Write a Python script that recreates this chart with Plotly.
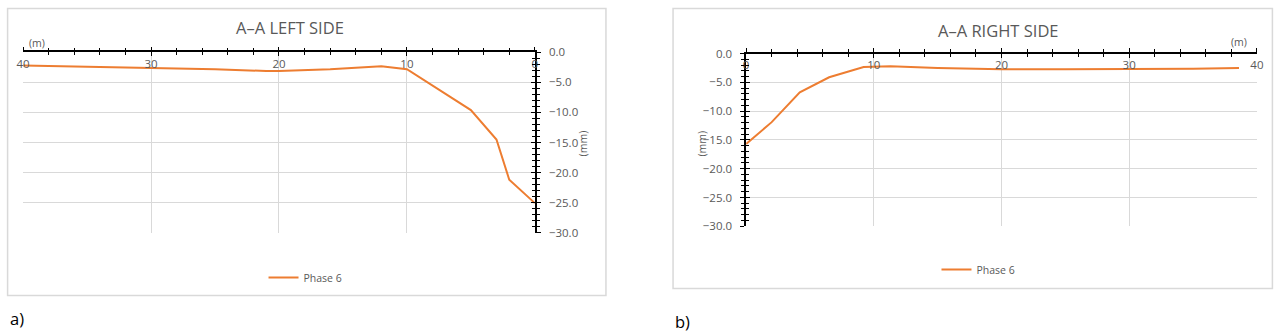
import plotly.graph_objects as go

# ---- data ----
left_dist = [40, 35, 30, 25, 21, 20, 16, 12, 10, 5, 3, 2, 0]
left_vals = [-2.2, -2.4, -2.6, -2.8, -3.1, -3.1, -2.8, -2.3, -2.8, -9.6, -14.5, -21.2, -25.1]
right_dist = [0, 2, 4.2, 6.5, 9.2, 11.3, 15, 20, 25, 30, 35, 38.6]
right_vals = [-15.7, -11.9, -6.7, -4.1, -2.3, -2.2, -2.5, -2.7, -2.7, -2.7, -2.6, -2.5]
series_name = "Phase 6"
titles = ["A\u2013A LEFT SIDE", "A\u2013A RIGHT SIDE"]
x_tick_step = 10
y_tick_step = 5

W, H = 1280, 335
# the page keeps an 8px body margin and is then fitted into 1280x335,
# so target positions are mapped back into figure pixels
SX = W / (W + 16)
SY = H / (H + 16)
OX, OY = 8 * SX, 8 * SY

ORANGE = "#ED7D31"
GRAY = "#595959"
GRID = "#d9d9d9"
FONT = "Open Sans"

def px(x):
    f = (x - OX) / SX
    f = min(max(f, 0.6), W - 0.6)
    return f / W

def py(y):
    f = (y - OY) / SY
    f = min(max(f, 0.6), H - 0.6)
    return (H - f) / H

fig = go.Figure()

fig.add_trace(go.Scatter(x=left_dist, y=left_vals, mode="lines", name=series_name,
                         line=dict(color=ORANGE, width=2), xaxis="x", yaxis="y",
                         legend="legend"))
fig.add_trace(go.Scatter(x=right_dist, y=right_vals, mode="lines", name=series_name,
                         line=dict(color=ORANGE, width=2), xaxis="x2", yaxis="y2",
                         legend="legend2"))
# helper traces for crossing tick overlays
for xa, ya in [("x3", "y3"), ("x4", "y4")]:
    fig.add_trace(go.Scatter(x=[None], y=[None], xaxis=xa, yaxis=ya, showlegend=False,
                             hoverinfo="skip"))

Ldom_x = [px(24), px(535)]
Ldom_y = [py(232), py(52)]
Rdom_x = [px(746), px(1256)]
Rdom_y = [py(225.7), py(53.3)]

tickfont = dict(family=FONT, size=11.5, color=GRAY)

def xaxis_main(dom, rng, anchor):
    return dict(domain=dom, range=rng, anchor=anchor, side="top", dtick=x_tick_step,
                tick0=0, showgrid=True, gridcolor=GRID, gridwidth=1, zeroline=False,
                showline=True, linecolor="black", linewidth=1.5,
                ticks="outside", ticklen=4, tickcolor="black", tickwidth=1.2,
                minor=dict(dtick=2, ticks="outside", ticklen=3, tickcolor="black",
                           tickwidth=1, showgrid=False),
                ticklabelposition="inside", ticklabeloverflow="allow",
                ticklabelstandoff=7,
                tickfont=tickfont, fixedrange=True)

def xaxis_over(dom, rng, anchor, over):
    return dict(domain=dom, range=rng, anchor=anchor, side="top", overlaying=over,
                dtick=x_tick_step, tick0=0, showgrid=False, zeroline=False,
                showline=False, ticks="inside", ticklen=4, tickcolor="black",
                tickwidth=1.2, showticklabels=False,
                minor=dict(dtick=2, ticks="inside", ticklen=3, tickcolor="black",
                           tickwidth=1, showgrid=False), fixedrange=True)

def yaxis_main(dom, side, anchor):
    return dict(domain=dom, range=[-30, 0], anchor=anchor, side=side, dtick=y_tick_step,
                tick0=0, tickformat=".1f", showgrid=True, gridcolor=GRID, gridwidth=1,
                zeroline=False, showline=True, linecolor="black", linewidth=1.5,
                ticks="outside", ticklen=4, tickcolor="black", tickwidth=1.2,
                ticklabelstandoff=6,
                minor=dict(dtick=1, ticks="outside", ticklen=3, tickcolor="black",
                           tickwidth=1, showgrid=False),
                tickfont=tickfont, fixedrange=True)

def yaxis_over(dom, side, anchor, over):
    return dict(domain=dom, range=[-30, 0], anchor=anchor, side=side, overlaying=over,
                dtick=y_tick_step, tick0=0, showgrid=False, zeroline=False,
                showline=False, ticks="inside", ticklen=4, tickcolor="black",
                tickwidth=1.2, showticklabels=False,
                minor=dict(dtick=1, ticks="inside", ticklen=3, tickcolor="black",
                           tickwidth=1, showgrid=False), fixedrange=True)

fig.update_layout(
    width=W, height=H,
    margin=dict(l=0, r=0, t=0, b=0),
    paper_bgcolor="white", plot_bgcolor="white",
    font=dict(family=FONT, color=GRAY),
    xaxis=xaxis_main(Ldom_x, [40, 0], "y"),
    yaxis=yaxis_main(Ldom_y, "right", "x"),
    xaxis2=xaxis_main(Rdom_x, [0, 40], "y2"),
    yaxis2=yaxis_main(Rdom_y, "left", "x2"),
    xaxis3=xaxis_over(Ldom_x, [40, 0], "y", "x"),
    yaxis3=yaxis_over(Ldom_y, "right", "x", "y"),
    xaxis4=xaxis_over(Rdom_x, [0, 40], "y2", "x2"),
    yaxis4=yaxis_over(Rdom_y, "left", "x2", "y2"),
    legend=dict(x=px(306), y=py(277), xanchor="center", yanchor="middle",
                orientation="h", font=dict(family=FONT, size=10.5, color=GRAY),
                bgcolor="rgba(0,0,0,0)", itemwidth=30),
    legend2=dict(x=px(978), y=py(269), xanchor="center", yanchor="middle",
                 orientation="h", font=dict(family=FONT, size=10.5, color=GRAY),
                 bgcolor="rgba(0,0,0,0)", itemwidth=30),
    showlegend=True,
)

# chart frames
fig.add_shape(type="rect", xref="paper", yref="paper", x0=px(3), x1=px(606),
              y0=py(295), y1=py(3), line=dict(color=GRID, width=1.5), layer="below")
fig.add_shape(type="rect", xref="paper", yref="paper", x0=px(673), x1=px(1277),
              y0=py(288), y1=py(4), line=dict(color=GRID, width=1.5), layer="below")

def ann(text, x, y, size, color=GRAY, angle=0, xanchor="center"):
    fig.add_annotation(text=text, x=px(x), y=py(y), xref="paper", yref="paper",
                       showarrow=False, xanchor=xanchor, yanchor="middle",
                       textangle=angle, font=dict(family=FONT, size=size, color=color))

ann(titles[0], 290, 27, 16.5)
ann(titles[1], 998, 30, 16.5)
ann("(m)", 38, 43, 10.5)
ann("(m)", 1238, 42, 10.5)
ann("(mm)", 584, 143, 10.5, angle=-90)
ann("(mm)", 702, 143, 10.5, angle=-90)
ann("a)", 0, 318, 16.5, color="black", xanchor="left")
ann("b)", 673, 321, 16.5, color="black", xanchor="left")

fig.write_html("out.html")
